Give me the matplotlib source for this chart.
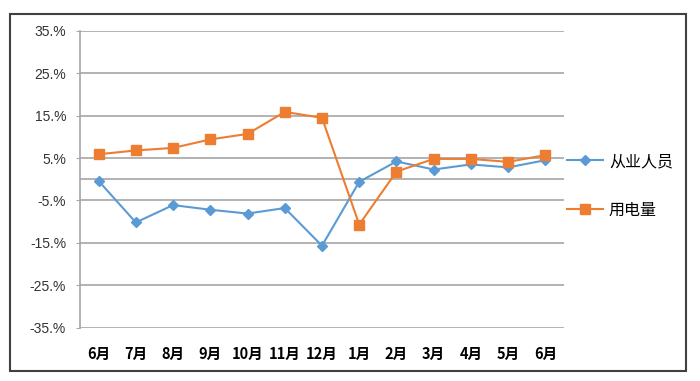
import matplotlib
matplotlib.use("Agg")
import matplotlib.pyplot as plt
from matplotlib.lines import Line2D
from matplotlib.patches import Rectangle

plt.rcParams['font.family'] = ['Noto Sans CJK SC', 'DejaVu Sans']

months = ["6月", "7月", "8月", "9月", "10月", "11月", "12月", "1月", "2月", "3月", "4月", "5月", "6月"]
employees = [-0.4, -10.2, -6.1, -7.2, -8.1, -6.8, -15.7, -0.6, 4.2, 2.3, 3.5, 2.8, 4.5]
electricity = [5.9, 6.8, 7.4, 9.4, 10.7, 15.9, 14.5, -10.7, 1.8, 4.8, 4.8, 4.1, 5.7]
yticks = [-35, -25, -15, -5, 5, 15, 25, 35]
ytick_labels = ["-35.%", "-25.%", "-15.%", "-5.%", "5.%", "15.%", "25.%", "35.%"]
series_names = ["从业人员", "用电量"]

W, H = 700, 381
fig = plt.figure(figsize=(W/100, H/100), dpi=100)

# outer frame
fig.patches.append(Rectangle((10/W, 1-371/H), 676/W, 357/H, transform=fig.transFigure,
                             fill=False, edgecolor='#404040', linewidth=1.5))

ax = fig.add_axes([80/W, 1-327.5/H, 484/W, 296.5/H])
x = list(range(len(months)))
blue = '#5B9BD5'
orange = '#ED7D31'
ax.plot(x, employees, color=blue, lw=1.5, marker='D', ms=5, zorder=3)
ax.plot(x, electricity, color=orange, lw=1.5, marker='s', ms=6.5, zorder=4)

ax.set_xlim(-0.5, len(months)-0.5)
ax.set_ylim(-35, 35)
ax.set_yticks(yticks)
ax.set_yticklabels(ytick_labels, family=['Liberation Sans', 'DejaVu Sans'], fontsize=10, color='#333333')
ax.set_xticks(x)
ax.set_xticklabels(months, fontsize=10.5, fontweight='bold')
for t in yticks:
    ax.axhline(t, color='#A6A6A6', lw=1.2, zorder=1)
ax.axhline(0, color='#A6A6A6', lw=1.2, zorder=1)
for s in ['top', 'right', 'bottom']:
    ax.spines[s].set_visible(False)
ax.spines['left'].set_color('#A6A6A6')
ax.spines['left'].set_linewidth(1.2)
ax.tick_params(axis='y', length=3, color='#A6A6A6', pad=7)
ax.tick_params(axis='x', length=0, pad=13)

# legend
handles = [Line2D([], [], color=blue, lw=1.5, marker='D', ms=5),
           Line2D([], [], color=orange, lw=1.5, marker='s', ms=6.5)]
fig.legend(handles, series_names, loc='center left', bbox_to_anchor=(553/W, 1-186/H),
           frameon=False, fontsize=11.5, handlelength=2.2, labelspacing=2.0, handletextpad=0.4)

fig.savefig("out.png", dpi=100)
